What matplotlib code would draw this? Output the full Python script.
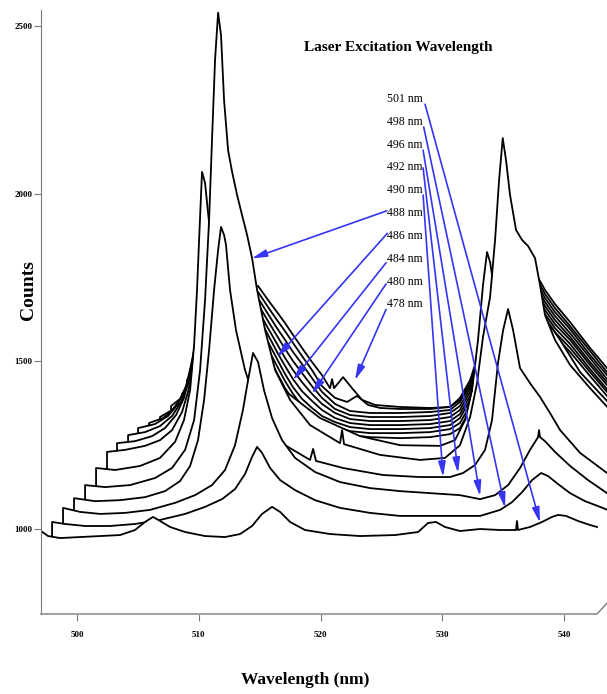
import matplotlib
matplotlib.use("Agg")
import matplotlib.pyplot as plt

plt.rcParams["font.family"] = ["Liberation Serif", "DejaVu Serif"]

x_ticks = [500, 510, 520, 530, 540]
y_ticks = [1000, 1500, 2000, 2500]

# spectra as drawn in the waterfall, front (501 nm) to back (478 nm): (wavelength, counts)
spec_00 = [(497.04, 931), (497.04, 994), (497.62, 979), (498.60, 973), (500.25, 976), (501.89, 979),
           (503.53, 982), (504.76, 997), (505.58, 1021), (506.24, 1036), (506.81, 1024), (507.64, 1006),
           (508.87, 991), (510.51, 979), (512.15, 976), (513.38, 985), (514.37, 1009), (515.19, 1045),
           (516.01, 1066), (516.67, 1051), (517.49, 1021), (518.72, 997), (520.77, 985), (523.23, 979),
           (526.11, 982), (528.00, 991), (528.82, 1018), (529.47, 1021), (530.21, 1006), (531.44, 994),
           (533.09, 1000), (534.73, 997), (536.04, 997), (536.12, 1024), (536.20, 997), (537.19, 1006),
           (538.18, 1021), (539.00, 1036), (539.49, 1042), (540.15, 1039), (541.13, 1024), (542.12, 1012),
           (542.69, 1006)]
spec_01 = [(497.95, 1021), (499.01, 1015), (500.66, 1009), (502.71, 1009), (504.76, 1015), (506.81, 1027),
           (508.87, 1045), (510.51, 1066), (511.90, 1089), (512.97, 1119), (513.79, 1164), (514.37, 1215),
           (514.78, 1245), (515.19, 1227), (515.85, 1182), (516.67, 1146), (517.90, 1116), (519.54, 1086),
           (521.59, 1063), (524.06, 1048), (526.52, 1039), (528.98, 1039), (531.03, 1039), (533.09, 1039),
           (534.73, 1057), (535.71, 1080), (536.54, 1110), (537.36, 1146), (538.10, 1167), (538.67, 1158),
           (539.49, 1134), (540.48, 1107), (541.71, 1083), (542.94, 1066), (543.76, 1054)]
spec_02 = [(498.85, 1063), (500.25, 1051), (501.89, 1045), (503.94, 1048), (505.99, 1057), (508.05, 1078),
           (509.69, 1101), (511.08, 1131), (512.15, 1176), (512.97, 1250), (513.62, 1355), (514.04, 1444),
           (514.45, 1525), (514.86, 1498), (515.35, 1414), (516.01, 1331), (516.83, 1265), (517.90, 1212),
           (519.54, 1170), (521.59, 1140), (524.06, 1122), (526.52, 1113), (528.98, 1107), (531.44, 1101),
           (533.09, 1089), (534.32, 1101), (535.39, 1131), (536.37, 1182), (537.19, 1236), (537.85, 1274),
           (537.93, 1295), (538.01, 1274), (538.42, 1262), (539.24, 1230), (540.48, 1188), (541.95, 1146),
           (543.51, 1107), (544.17, 1095)]
spec_03 = [(499.75, 1092), (501.48, 1083), (503.53, 1086), (505.58, 1095), (507.22, 1113), (508.46, 1143),
           (509.28, 1188), (509.93, 1265), (510.43, 1385), (510.84, 1534), (511.25, 1713), (511.58, 1832),
           (511.82, 1901), (512.07, 1877), (512.23, 1847), (512.56, 1713), (513.05, 1593), (513.79, 1474),
           (514.61, 1385), (515.68, 1310), (517.08, 1250), (519.13, 1206), (519.38, 1239), (519.62, 1203),
           (521.84, 1182), (525.12, 1161), (528.16, 1155), (530.62, 1155), (531.69, 1167), (532.68, 1191),
           (533.50, 1236), (534.07, 1325), (534.56, 1495), (534.98, 1593), (535.39, 1656), (535.80, 1593),
           (536.37, 1480), (537.19, 1435), (538.01, 1394), (538.83, 1346), (539.66, 1295), (541.30, 1227),
           (543.51, 1167), (544.58, 1146)]
spec_04 = [(500.66, 1131), (502.30, 1125), (504.35, 1131), (506.40, 1152), (507.80, 1182), (508.87, 1236),
           (509.61, 1325), (510.10, 1474), (510.51, 1683), (510.84, 1921), (511.08, 2160), (511.33, 2399),
           (511.58, 2540), (511.82, 2473), (512.07, 2279), (512.40, 2130), (512.73, 2065), (513.14, 1996),
           (513.55, 1936), (513.96, 1877), (514.37, 1808), (514.78, 1713), (515.44, 1593), (516.26, 1474),
           (517.49, 1385), (519.13, 1310), (521.59, 1256), (521.76, 1295), (521.92, 1253), (524.88, 1221),
           (528.16, 1206), (530.21, 1212), (531.44, 1250), (532.27, 1334), (532.84, 1435), (533.33, 1573),
           (533.91, 1692), (534.32, 1862), (534.65, 2041), (534.95, 2166), (535.22, 2100), (535.55, 1996),
           (536.04, 1892), (536.54, 1862), (537.03, 1844), (537.60, 1808), (538.01, 1728), (538.42, 1638),
           (539.24, 1564), (540.48, 1489), (542.12, 1420), (543.76, 1355)]
spec_05 = [(501.56, 1182), (503.12, 1176), (505.17, 1188), (506.81, 1212), (508.05, 1260), (508.78, 1325),
           (509.28, 1414), (509.61, 1549), (509.85, 1713), (510.02, 1862), (510.26, 2065), (510.51, 2032),
           (510.76, 1942), (511.08, 1832), (511.58, 1713), (512.40, 1623), (513.79, 1534), (515.44, 1459),
           (517.49, 1400), (519.95, 1331), (523.23, 1277), (526.52, 1250), (529.80, 1248), (531.03, 1265),
           (531.86, 1325), (532.43, 1414), (532.92, 1564), (533.33, 1728), (533.66, 1826), (533.91, 1796),
           (534.32, 1698), (535.14, 1623), (536.37, 1638), (537.60, 1653), (538.42, 1629), (539.66, 1564),
           (541.30, 1468), (543.51, 1382), (544.17, 1370)]

# back spectra share one wavelength grid past the big left peak
mid_nm = [514.86, 515.68, 516.42, 517.08, 517.73, 518.47, 519.29, 520.11, 521.18, 522.41,
          524.06, 526.52, 528.98, 530.62, 531.44, 532.27, 533.09, 533.91, 535.14, 536.37,
          537.60, 538.42, 539.24, 540.48, 542.12, 543.51, 544.58]

left_06 = [(502.46, 1230), (503.94, 1236), (505.58, 1248), (506.81, 1265), (507.80, 1295), (508.62, 1349),
           (509.11, 1409), (509.52, 1489), (509.93, 1593), (510.51, 1683), (511.33, 1743), (512.56, 1778),
           (513.79, 1778), (514.37, 1728)]
tail_06 = [1581, 1516, 1465, 1420, 1385, 1352, 1328, 1310, 1292, 1280, 1274, 1271, 1274, 1283,
           1301, 1355, 1444, 1549, 1638, 1683, 1671, 1617, 1576, 1528, 1456, 1397, 1376]
left_07 = [(503.28, 1256), (504.76, 1262), (506.16, 1277), (507.22, 1301), (508.13, 1340), (508.78, 1391),
           (509.28, 1459), (509.69, 1549), (510.10, 1638), (510.92, 1713), (512.15, 1757), (513.38, 1766),
           (514.20, 1737)]
tail_07 = [1599, 1537, 1486, 1441, 1403, 1367, 1343, 1322, 1304, 1292, 1286, 1286, 1289, 1298,
           1316, 1370, 1459, 1564, 1647, 1689, 1683, 1629, 1587, 1540, 1468, 1409, 1388]
left_08 = [(504.19, 1280), (505.58, 1289), (506.81, 1307), (507.80, 1337), (508.54, 1379), (509.11, 1438),
           (509.52, 1510), (509.93, 1593), (510.51, 1668), (511.58, 1728), (512.97, 1754), (514.20, 1734)]
tail_08 = [1617, 1558, 1507, 1462, 1423, 1388, 1361, 1337, 1319, 1304, 1298, 1298, 1301, 1310,
           1331, 1385, 1474, 1576, 1656, 1695, 1695, 1641, 1599, 1552, 1477, 1417, 1397]
left_09 = [(505.01, 1301), (506.40, 1313), (507.47, 1337), (508.29, 1373), (508.95, 1426), (509.36, 1489),
           (509.77, 1564), (510.34, 1647), (511.33, 1707), (512.73, 1743), (514.04, 1731)]
tail_09 = [1635, 1579, 1528, 1486, 1447, 1411, 1382, 1355, 1331, 1316, 1310, 1310, 1313, 1322,
           1343, 1397, 1486, 1587, 1665, 1701, 1707, 1653, 1611, 1564, 1489, 1429, 1409]
left_10 = [(505.91, 1316), (507.06, 1331), (507.96, 1358), (508.70, 1400), (509.20, 1450), (509.61, 1516),
           (510.10, 1599), (510.92, 1677), (512.15, 1725), (513.55, 1734)]
tail_10 = [1653, 1599, 1552, 1510, 1474, 1438, 1403, 1373, 1346, 1328, 1322, 1322, 1325, 1334,
           1355, 1409, 1498, 1599, 1674, 1707, 1719, 1665, 1623, 1573, 1498, 1438, 1417]
left_11 = [(506.81, 1334), (507.80, 1355), (508.54, 1388), (509.11, 1432), (509.52, 1489), (509.93, 1564),
           (510.51, 1638), (511.58, 1698), (512.97, 1728), (514.20, 1725)]
tail_11 = [1671, 1620, 1576, 1537, 1501, 1465, 1426, 1391, 1358, 1340, 1334, 1334, 1337, 1346,
           1367, 1420, 1510, 1608, 1683, 1713, 1731, 1677, 1635, 1584, 1510, 1447, 1426]
left_12 = [(507.72, 1367), (508.46, 1388), (509.03, 1426), (509.44, 1474), (509.85, 1540), (510.34, 1608),
           (511.17, 1674), (512.40, 1713), (513.79, 1722)]
tail_12 = [1689, 1641, 1599, 1564, 1528, 1492, 1450, 1409, 1373, 1352, 1346, 1346, 1349, 1355,
           1379, 1429, 1519, 1617, 1689, 1719, 1743, 1689, 1647, 1596, 1519, 1459, 1438]

# the two back-most spectra carry the small bands near 522 nm
spec_13 = [(508.62, 1403), (509.11, 1429), (509.52, 1468), (509.93, 1519), (510.43, 1584), (511.08, 1644),
           (512.15, 1692), (513.55, 1713), (514.86, 1707), (515.68, 1662), (516.42, 1623), (517.08, 1590),
           (517.73, 1555), (518.47, 1516), (519.29, 1474), (520.11, 1426), (521.18, 1391), (522.17, 1379),
           (522.99, 1397), (523.89, 1370), (524.88, 1361), (526.52, 1358), (528.98, 1358), (530.62, 1364),
           (531.44, 1385), (532.27, 1435), (533.09, 1528), (533.91, 1626), (535.14, 1695), (536.37, 1725),
           (537.60, 1755), (538.42, 1701), (539.24, 1659), (540.48, 1605), (542.12, 1531), (543.51, 1468),
           (544.58, 1447)]
spec_14 = [(509.03, 1444), (509.44, 1468), (509.85, 1510), (510.26, 1564), (510.84, 1623), (511.74, 1677),
           (512.97, 1707), (514.20, 1716), (514.86, 1725), (515.68, 1683), (516.42, 1647), (517.08, 1614),
           (517.73, 1579), (518.47, 1540), (519.29, 1498), (520.11, 1459), (520.77, 1420), (520.94, 1447),
           (521.10, 1420), (521.84, 1453), (522.58, 1420), (523.40, 1385), (524.47, 1370), (526.52, 1364),
           (528.98, 1361), (530.62, 1364), (531.44, 1391), (532.27, 1444), (533.09, 1537), (533.91, 1635),
           (535.14, 1701), (536.37, 1731), (537.60, 1766), (538.42, 1713), (539.24, 1671), (540.48, 1617),
           (542.12, 1540), (543.51, 1480), (544.58, 1456)]

laser_nm = [501, 498, 496, 492, 490, 488, 486, 484, 480, 478]
label_nm = 525.43
label_counts = [2282, 2214, 2145, 2079, 2011, 1942, 1874, 1805, 1737, 1671]
arrow_from = [(528.57, 2267), (528.46, 2199), (528.41, 2130), (528.41, 2077), (528.41, 1996),
              (525.43, 1949), (525.48, 1882), (525.37, 1794), (525.37, 1731), (525.37, 1655)]
arrow_to = [(538.01, 1019), (535.14, 1063), (533.09, 1098), (531.28, 1167), (530.05, 1155),
            (514.34, 1807), (516.42, 1513), (517.73, 1444), (519.29, 1403), (522.82, 1444)]

XMIN, XMAX = 497.04, 543.51
YMIN, YMAX = 746.5, 2548
BLUE = "#3535f2"
GREY = "#7a7a7a"

traces = [spec_00, spec_01, spec_02, spec_03, spec_04, spec_05]
for left, tail in [(left_06, tail_06), (left_07, tail_07), (left_08, tail_08), (left_09, tail_09),
                   (left_10, tail_10), (left_11, tail_11), (left_12, tail_12)]:
    traces.append(left + list(zip(mid_nm, tail)))
traces += [spec_13, spec_14]

fig = plt.figure(figsize=(6.07, 6.94), dpi=100)
ax = fig.add_axes([41 / 607, 80 / 694, 566 / 607, 604 / 694])
ax.set_xlim(XMIN, XMAX)
ax.set_ylim(YMIN, YMAX)

# hidden-line waterfall: each spectrum masks the ones behind it
n = len(traces)
for i, tr in enumerate(traces):
    xs = [p[0] for p in tr]
    ys = [p[1] for p in tr]
    if i > 0:
        xs = [xs[0]] + xs
        ys = [YMIN] + ys
    z = 10 + (n - i) * 2
    ax.fill_between(xs, ys, YMIN, color="white", lw=0, zorder=z - 1)
    ax.plot(xs, ys, color="black", lw=1.3, zorder=z, solid_joinstyle="round")

for nm, yc in zip(laser_nm, label_counts):
    ax.text(label_nm, yc, f"{nm} nm", ha="left", va="center", fontsize=8.5, zorder=600)
for (x0, y0), (x1, y1) in zip(arrow_from, arrow_to):
    ax.annotate("", xy=(x1, y1), xytext=(x0, y0), annotation_clip=False, zorder=600,
                arrowprops=dict(arrowstyle="-|>,head_length=0.9,head_width=0.22", color=BLUE,
                                lw=1.2, shrinkA=0, shrinkB=0))

for s in ["top", "right", "bottom"]:
    ax.spines[s].set_visible(False)
ax.spines["left"].set_color(GREY)
ax.spines["left"].set_zorder(700)
# floor edge of the 3-D box
ax.plot([XMIN, 542.69, XMAX], [YMIN, YMIN, 779], color=GREY, lw=1.0, clip_on=False, zorder=700)

ax.set_xticks(x_ticks)
ax.set_yticks(y_ticks)
ax.tick_params(axis="both", direction="out", length=5, width=0.8, color=GREY, labelsize=6.5)
ax.tick_params(axis="x", pad=7)
ax.tick_params(axis="y", pad=1)
for lbl in ax.get_xticklabels() + ax.get_yticklabels():
    lbl.set_fontweight("bold")

fig.text(398.5 / 607, 1 - 47 / 694, "Laser Excitation Wavelength", ha="center", va="center",
         fontsize=11, fontweight="bold")
fig.text(305 / 607, 1 - 680 / 694, "Wavelength (nm)", ha="center", va="center",
         fontsize=12.5, fontweight="bold")
fig.text(28 / 607, 1 - 290 / 694, "Counts", ha="center", va="center", rotation=90,
         fontsize=14, fontweight="bold")

fig.savefig("out.png", dpi=100)
